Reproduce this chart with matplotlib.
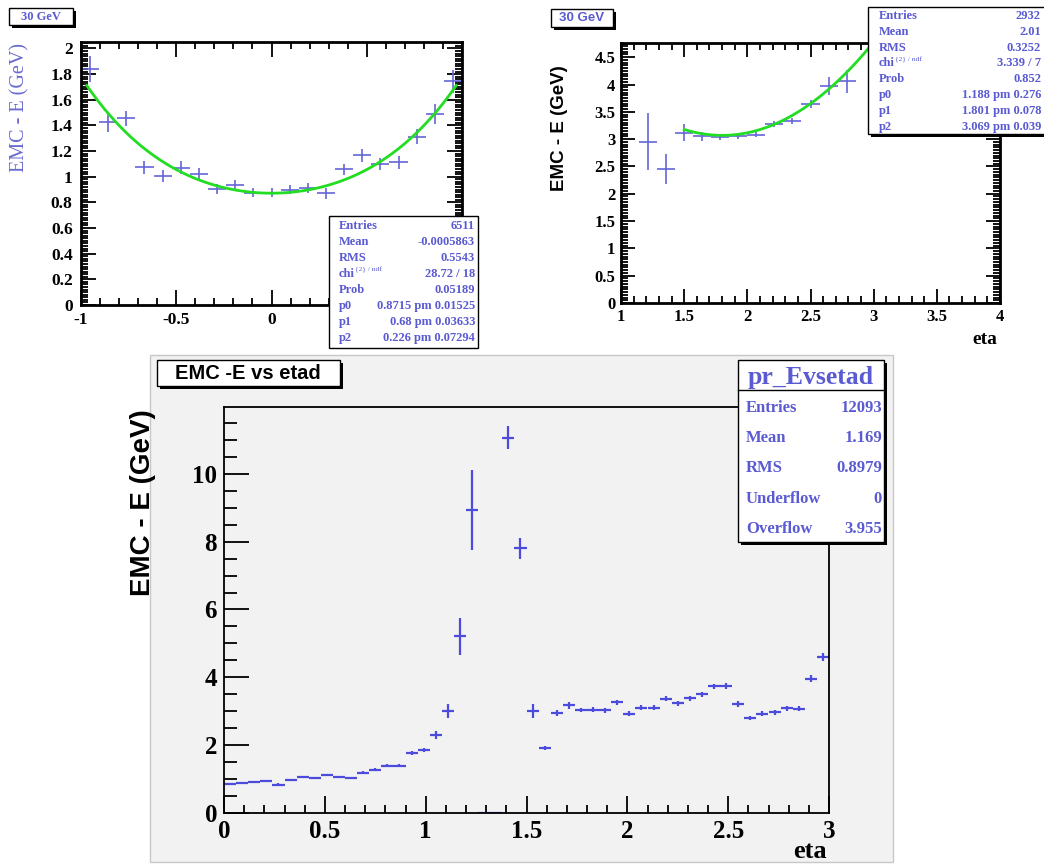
import matplotlib
matplotlib.use('Agg')
import matplotlib.pyplot as plt
import numpy as np
from matplotlib.patches import Rectangle
from matplotlib.ticker import MultipleLocator

# ---- data ----
# top left: 30 GeV, eta -1..1
eta_l = [-0.952, -0.857, -0.762, -0.667, -0.571, -0.476, -0.381, -0.286, -0.190, -0.095,
         0.0, 0.095, 0.190, 0.286, 0.381, 0.476, 0.571, 0.667, 0.762, 0.857, 0.952]
val_l = [1.84, 1.43, 1.455, 1.073, 1.005, 1.07, 1.02, 0.904, 0.935, 0.875,
         0.875, 0.90, 0.914, 0.87, 1.057, 1.166, 1.099, 1.112, 1.312, 1.488, 1.745]
err_l = [0.10, 0.078, 0.06, 0.05, 0.05, 0.05, 0.045, 0.04, 0.04, 0.035,
         0.035, 0.035, 0.04, 0.04, 0.045, 0.05, 0.05, 0.05, 0.06, 0.08, 0.09]
hw_l = 0.0476
fit_l = (0.8715, 0.68, 0.226)

# top right: 30 GeV, eta 1..4
eta_r = [1.214, 1.357, 1.5, 1.643, 1.786, 1.929, 2.071, 2.214, 2.357, 2.5, 2.643, 2.786]
val_r = [2.95, 2.45, 3.12, 3.05, 3.04, 3.05, 3.08, 3.28, 3.33, 3.64, 3.97, 4.06]
err_r = [0.52, 0.27, 0.16, 0.08, 0.05, 0.05, 0.05, 0.06, 0.06, 0.07, 0.17, 0.21]
hw_r = 0.0714
fit_r = (1.188, 1.801, 3.069)

# bottom: EMC -E vs etad
eta_b = [0.03, 0.09, 0.15, 0.21, 0.27, 0.33, 0.39, 0.45, 0.51, 0.57,
         0.63, 0.69, 0.75, 0.81, 0.87, 0.93, 0.99, 1.05, 1.11, 1.17,
         1.23, 1.29, 1.35, 1.41, 1.47, 1.53, 1.59, 1.65, 1.71, 1.77,
         1.83, 1.89, 1.95, 2.01, 2.07, 2.13, 2.19, 2.25, 2.31, 2.37,
         2.43, 2.49, 2.55, 2.61, 2.67, 2.73, 2.79, 2.85, 2.91, 2.97]
val_b = [0.85, 0.89, 0.92, 0.94, 0.84, 0.98, 1.06, 1.03, 1.13, 1.07,
         1.03, 1.19, 1.28, 1.40, 1.39, 1.78, 1.87, 2.30, 3.00, 5.21,
         8.94, 0.0, 0.0, 11.07, 7.80, 3.00, 1.93, 2.95, 3.17, 3.04,
         3.05, 3.03, 3.26, 2.93, 3.11, 3.11, 3.37, 3.23, 3.38, 3.50,
         3.73, 3.74, 3.21, 2.80, 2.93, 2.97, 3.09, 3.08, 3.96, 4.59]
err_b = [0.03, 0.03, 0.03, 0.03, 0.03, 0.03, 0.03, 0.03, 0.03, 0.03,
         0.03, 0.04, 0.04, 0.04, 0.04, 0.06, 0.06, 0.12, 0.21, 0.54,
         1.18, 0.0, 0.0, 0.35, 0.31, 0.20, 0.06, 0.10, 0.10, 0.07,
         0.07, 0.07, 0.08, 0.07, 0.07, 0.07, 0.08, 0.08, 0.08, 0.08,
         0.08, 0.08, 0.08, 0.07, 0.07, 0.07, 0.07, 0.07, 0.10, 0.12]
hw_b = 0.03

stats_l = [("Entries", "6511"), ("Mean", "-0.0005863"), ("RMS", "0.5543"),
           ("chi", "28.72 / 18"), ("Prob", "0.05189"), ("p0", "0.8715 pm 0.01525"),
           ("p1", "0.68 pm 0.03633"), ("p2", "0.226 pm 0.07294")]
stats_r = [("Entries", "2932"), ("Mean", "2.01"), ("RMS", "0.3252"),
           ("chi", "3.339 / 7"), ("Prob", "0.852"), ("p0", "1.188 pm 0.276"),
           ("p1", "1.801 pm 0.078"), ("p2", "3.069 pm 0.039")]
stats_b = [("Entries", "12093"), ("Mean", "1.169"), ("RMS", "0.8979"),
           ("Underflow", "0"), ("Overflow", "3.955")]

W, H = 1044, 867
plt.rcParams['font.family'] = ['Liberation Serif', 'DejaVu Serif']
plt.rcParams['font.weight'] = 'bold'

blue = '#5a5ad2'
pblue = '#6565d8'
green = '#22dd22'
SANS = ['Liberation Sans', 'DejaVu Sans']


def fx(px):
    return px / W


def fy(py):
    return 1 - py / H


def rect(l, t, r, b):
    return [l / W, 1 - b / H, (r - l) / W, (b - t) / H]


def plain(v, p):
    return f"{v:g}"


def box(fig, l, t, r, b, shadow=3, face='white', lw=1.0):
    if shadow:
        fig.add_artist(Rectangle((fx(l + shadow), fy(b + shadow)), (r - l) / W, (b - t) / H,
                                 transform=fig.transFigure, facecolor='black',
                                 edgecolor='none', zorder=4))
    fig.add_artist(Rectangle((fx(l), fy(b)), (r - l) / W, (b - t) / H,
                             transform=fig.transFigure, facecolor=face,
                             edgecolor='black', lw=lw, zorder=5))


def stats(fig, rows, xl, xr, y0, dy, size):
    for i, (k, v) in enumerate(rows):
        y = y0 + i * dy
        fig.text(fx(xl), fy(y), k, ha='left', va='center', size=size, color=blue, zorder=6)
        fig.text(fx(xr), fy(y), v, ha='right', va='center', size=size, color=blue, zorder=6)
        if k == "chi":
            fig.text(fx(xl + 16), fy(y - 4), "{2} / ndf", ha='left', va='center',
                     size=size * 0.6, weight='normal', color=blue, zorder=6)


def style(ax, xmaj, xmin, ymaj, ymin, lab, both=True, mlen=10, nlen=5):
    ax.xaxis.set_major_locator(MultipleLocator(xmaj))
    ax.xaxis.set_minor_locator(MultipleLocator(xmin))
    ax.yaxis.set_major_locator(MultipleLocator(ymaj))
    ax.yaxis.set_minor_locator(MultipleLocator(ymin))
    ax.tick_params(which='both', direction='in', top=both, right=both,
                   labelsize=lab, width=1.3, pad=4)
    ax.tick_params(which='major', length=mlen)
    ax.tick_params(which='minor', length=nlen)
    ax.xaxis.set_major_formatter(plt.FuncFormatter(plain))
    ax.yaxis.set_major_formatter(plt.FuncFormatter(plain))


fig = plt.figure(figsize=(W / 100, H / 100), dpi=100)

# bottom pad background
fig.add_artist(Rectangle((fx(150), fy(862)), 743 / W, 507 / H, transform=fig.transFigure,
                         facecolor='#f2f2f2', edgecolor='#c8c8c8', lw=1, zorder=-1))

# ---- top left ----
ax1 = fig.add_axes(rect(81, 42, 462, 305))
ax1.errorbar(eta_l, val_l, xerr=hw_l, yerr=err_l, fmt='none', ecolor=pblue, elinewidth=1.2)
xs = np.linspace(-0.97, 0.97, 200)
ax1.plot(xs, fit_l[0] + fit_l[1] * xs**2 + fit_l[2] * xs**4, color=green, lw=2)
ax1.set_xlim(-1, 1)
ax1.set_ylim(0, 2.05)
style(ax1, 0.5, 0.1, 0.2, 0.02, 12.5, mlen=11, nlen=5)
# x labels 0.5 and 1 sit under the stats box in the original
ax1.xaxis.set_major_formatter(plt.FuncFormatter(lambda v, p: f"{v:g}" if v < 0.25 else ""))
ax1.tick_params(axis='y', pad=6)
ax1.tick_params(axis='x', pad=5)
for s in ax1.spines.values():
    s.set_linewidth(2)
fig.text(fx(20), fy(107), "EMC - E (GeV)", rotation=90, ha='center', va='center',
         size=14.5, weight='normal', color='#6a6ad0')
box(fig, 9, 8, 73, 25, shadow=3)
fig.text(fx(41), fy(16.5), "30 GeV", ha='center', va='center', size=9, color=blue, zorder=6)
box(fig, 329, 216, 478, 348, shadow=0)
stats(fig, stats_l, 339, 475, 226, 16, 9)

# ---- top right ----
ax2 = fig.add_axes(rect(621, 43, 1000, 303))
ax2.errorbar(eta_r, val_r, xerr=hw_r, yerr=err_r, fmt='none', ecolor=pblue, elinewidth=1.2)
xs = np.linspace(1.5, 3.0, 200)
ax2.plot(xs, fit_r[2] + fit_r[0] * (xs - fit_r[1])**2, color=green, lw=2)
ax2.set_xlim(1, 4)
ax2.set_ylim(0, 4.76)
style(ax2, 0.5, 0.1, 0.5, 0.05, 12, mlen=10, nlen=5)
for s in ax2.spines.values():
    s.set_linewidth(2)
fig.text(fx(560), fy(128), "EMC - E (GeV)", rotation=90, ha='center', va='center',
         size=13.5, family=SANS, color='black')
fig.text(fx(985), fy(340), "eta", ha='center', va='center', size=14, color='black')
box(fig, 551, 9, 613, 27, shadow=3)
fig.text(fx(582), fy(18), "30 GeV", ha='center', va='center', size=9.5, family=SANS,
         color=blue, zorder=6)
box(fig, 868, 7, 1050, 134, shadow=3)
stats(fig, stats_r, 879, 1041, 16, 15.8, 9)

# ---- bottom ----
ax3 = fig.add_axes(rect(224, 407, 829, 813))
ax3.set_facecolor('#f2f2f2')
ax3.errorbar(eta_b, val_b, xerr=hw_b, yerr=err_b, fmt='none', ecolor='#4b4bdc', elinewidth=1.6)
ax3.set_xlim(0, 3)
ax3.set_ylim(0, 11.97)
style(ax3, 0.5, 0.1, 2, 0.5, 18, both=False, mlen=12, nlen=6)
ax3.tick_params(axis='y', which='major', length=18)
ax3.tick_params(axis='y', which='minor', length=9)
ax3.tick_params(pad=5)
for s in ax3.spines.values():
    s.set_linewidth(1.3)
fig.text(fx(143), fy(503), "EMC - E (GeV)", rotation=90, ha='center', va='center',
         size=20, family=SANS, color='black')
fig.text(fx(810), fy(852), "eta", ha='center', va='center', size=19, color='black')
box(fig, 157, 360, 340, 386, shadow=3)
fig.text(fx(248), fy(373.5), "EMC -E vs etad", ha='center', va='center', size=14.5,
         family=SANS, color='black', zorder=6)
box(fig, 738, 360, 884, 542, shadow=3)
fig.add_artist(plt.Line2D([fx(738), fx(884)], [fy(390), fy(390)], transform=fig.transFigure,
                          color='black', lw=1, zorder=6))
fig.text(fx(811), fy(377), "pr_Evsetad", ha='center', va='center', size=18.5, color=blue, zorder=6)
stats(fig, stats_b, 746, 882, 407.7, 30.4, 12)

fig.savefig('out.png', dpi=100)
